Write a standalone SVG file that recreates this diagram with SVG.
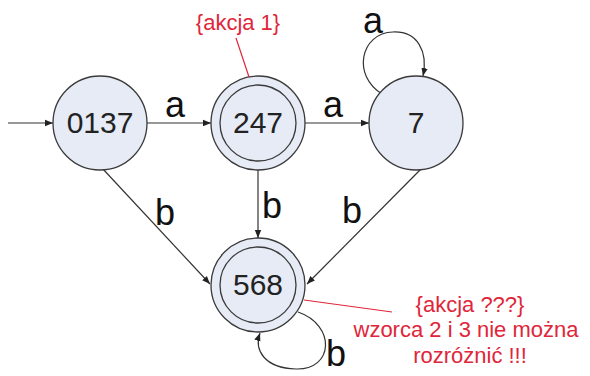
<svg xmlns="http://www.w3.org/2000/svg" width="590" height="376" viewBox="0 0 590 376">
  <style>
    .state { fill: #e6ebf6; stroke: #3a3a3a; stroke-width: 1.3; }
    .inner { fill: none; stroke: #3a3a3a; stroke-width: 1.3; }
    .name { font-family: "Liberation Sans", Arial, sans-serif; font-size: 30px; fill: #222; text-anchor: middle; }
    .edge { fill: none; stroke: #333; stroke-width: 1.2; marker-end: url(#arrow); }
    .sym { font-family: "Liberation Sans", Arial, sans-serif; font-size: 36px; fill: #111; text-anchor: middle; }
    .note { font-family: "Liberation Sans", Arial, sans-serif; font-size: 22px; fill: #e0263a; text-anchor: middle; }
    .callout { stroke: #e0263a; stroke-width: 1.2; fill: none; }
  </style>
  <defs>
    <marker id="arrow" viewBox="0 0 10 10" refX="10" refY="5" markerWidth="8" markerHeight="8" markerUnits="userSpaceOnUse" orient="auto">
      <path d="M0,1 L10,5 L0,9 z" fill="#222"/>
    </marker>
  </defs>
  <rect width="590" height="376" fill="#fff"/>

  <!-- transitions -->
  <g id="connectors">
    <line class="edge" x1="8" y1="123" x2="53" y2="123"/>
    <line class="edge" x1="147" y1="123" x2="211" y2="123"/>
    <line class="edge" x1="305" y1="123" x2="369" y2="123"/>
    <path class="edge" d="M382,94 C352,76 360,33 393,32 C418,31 428,52 423,76"/>
    <line class="edge" x1="102" y1="168" x2="210" y2="284"/>
    <line class="edge" x1="258" y1="170" x2="258" y2="238"/>
    <line class="edge" x1="421" y1="169" x2="307" y2="284"/>
    <path class="edge" d="M298,312 C336,325 334,370 296,369 C264,368 254,350 260,333"/>
    <text class="sym" x="175" y="117">a</text>
    <text class="sym" x="333" y="117">a</text>
    <text class="sym" x="373" y="33">a</text>
    <text class="sym" x="165" y="225">b</text>
    <text class="sym" x="272" y="218">b</text>
    <text class="sym" x="352" y="223">b</text>
    <text class="sym" x="336" y="366">b</text>
  </g>

  <!-- states -->
  <g id="s0137">
    <circle class="state" cx="100" cy="123" r="47"/>
    <text class="name" x="100" y="133">0137</text>
  </g>
  <g id="s247">
    <circle class="state" cx="258" cy="123" r="47"/>
    <circle class="inner" cx="258" cy="123" r="38"/>
    <text class="name" x="258" y="133">247</text>
  </g>
  <g id="s7">
    <circle class="state" cx="416" cy="123" r="47"/>
    <text class="name" x="416" y="133">7</text>
  </g>
  <g id="s568">
    <circle class="state" cx="258" cy="285" r="47"/>
    <circle class="inner" cx="258" cy="285" r="38"/>
    <text class="name" x="258" y="295">568</text>
  </g>

  <!-- action notes -->
  <g id="note1">
    <line class="callout" x1="236" y1="38" x2="249" y2="77"/>
    <text class="note" x="238" y="30">{akcja 1}</text>
  </g>
  <g id="note2">
    <line class="callout" x1="304" y1="300" x2="392" y2="312"/>
    <text class="note" x="470" y="312">{akcja ???}</text>
    <text class="note" x="466" y="337">wzorca 2 i 3 nie można</text>
    <text class="note" x="470" y="363">rozróżnić !!!</text>
  </g>
</svg>
